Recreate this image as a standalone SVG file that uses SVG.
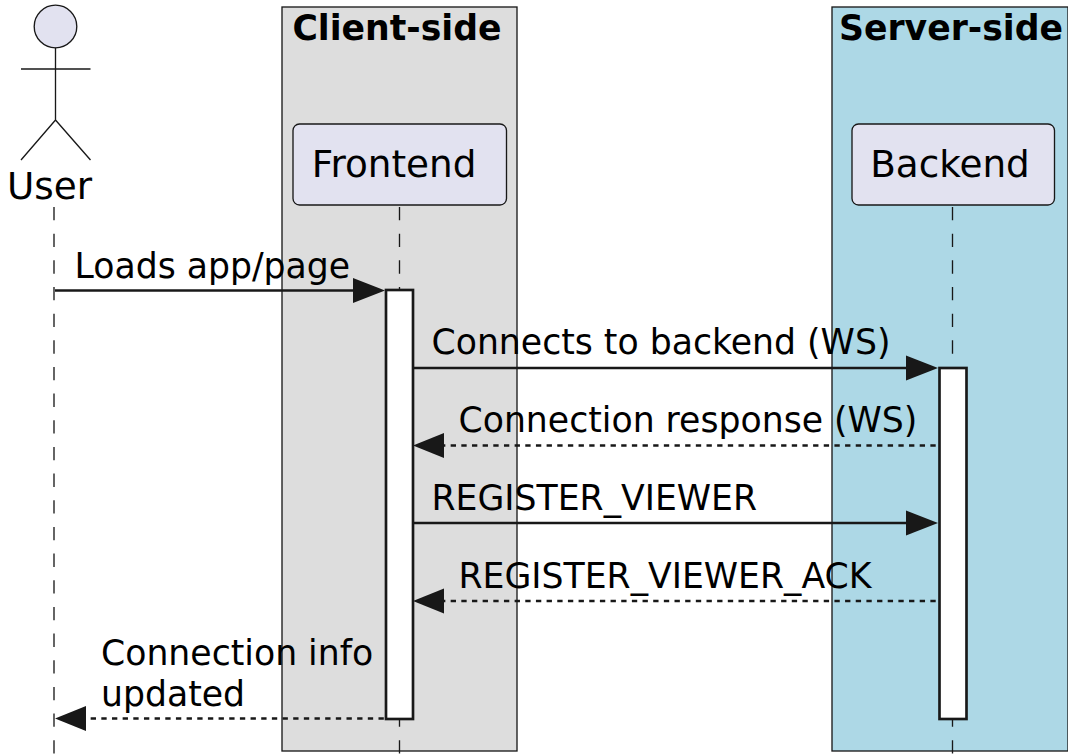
<svg xmlns="http://www.w3.org/2000/svg" width="1068" height="755" viewBox="0 0 1068 755">
<style>
text{font-family:"DejaVu Sans",sans-serif;font-size:34.67px;fill:#000}
.box{stroke:#181818;stroke-width:1.33}
.title{font-weight:700}
.pt{font-size:37.33px}
.life{stroke:#181818;stroke-width:1.33;stroke-dasharray:13.33,13.33;fill:none}
.part{fill:#E2E2F0;stroke:#181818;stroke-width:1.33}
.act{fill:#fff;stroke:#181818;stroke-width:2.67}
.m{stroke:#181818;stroke-width:2.67;fill:none}
.d{stroke-dasharray:5.33,5.33}
.h{fill:#181818}
</style>
<g id="box-client"><rect class="box" x="282" y="7" width="235" height="744" fill="#DDDDDD"/><text class="title" x="397" y="39.500" text-anchor="middle">Client-side</text></g>
<g id="box-server"><rect class="box" x="832" y="7" width="236" height="744" fill="#ADD8E6"/><text class="title" x="951" y="39.500" text-anchor="middle">Server-side</text></g>
<g id="lifelines">
<line class="life" x1="54" y1="207" x2="54" y2="755"/>
<line class="life" x1="399.500" y1="207" x2="399.500" y2="755"/>
<line class="life" x1="952.500" y1="207" x2="952.500" y2="755"/>
</g>
<g id="user"><circle class="part" cx="55.500" cy="26.500" r="21.300"/><path d="M55.500 47.800V120M21 69H90.500M55.500 120L21 160M55.500 120L90.500 160" fill="none" stroke="#181818" stroke-width="1.330"/><text class="pt" x="49.500" y="199" text-anchor="middle">User</text></g>
<g id="frontend"><rect class="part" x="293" y="124" width="213.500" height="81" rx="6.500"/><text class="pt" x="394" y="177" text-anchor="middle">Frontend</text></g>
<g id="backend"><rect class="part" x="852" y="124" width="202.500" height="81" rx="6.500"/><text class="pt" x="950" y="177" text-anchor="middle">Backend</text></g>
<g id="activations">
<rect class="act" x="386" y="290" width="27" height="429"/>
<rect class="act" x="939.500" y="368" width="27" height="351"/>
</g>
<g id="connectors">
<line class="m" x1="55" y1="290.500" x2="360" y2="290.500"/><path class="h" d="M385 290.500L353 278V303Z"/>
<line class="m" x1="414" y1="368" x2="912" y2="368"/><path class="h" d="M938 368L906 355.500V380.500Z"/>
<line class="m d" x1="440" y1="445.500" x2="938" y2="445.500"/><path class="h" d="M413 445.500L444 433V458Z"/>
<line class="m" x1="414" y1="523" x2="912" y2="523"/><path class="h" d="M938 523L906 510.500V535.500Z"/>
<line class="m d" x1="440" y1="601" x2="938" y2="601"/><path class="h" d="M413 601L444 588.500V613.500Z"/>
<line class="m d" x1="80" y1="718.500" x2="385" y2="718.500"/><path class="h" d="M55 718.500L86 706V731Z"/>
</g>
<g id="labels">
<text x="74.500" y="277.500">Loads app/page</text>
<text x="431.500" y="353.500">Connects to backend (WS)</text>
<text x="458.500" y="432">Connection response (WS)</text>
<text x="431.500" y="509.500">REGISTER_VIEWER</text>
<text x="458.500" y="587.500">REGISTER_VIEWER_ACK</text>
<text x="101" y="665">Connection info</text>
<text x="101" y="706">updated</text>
</g>
</svg>
